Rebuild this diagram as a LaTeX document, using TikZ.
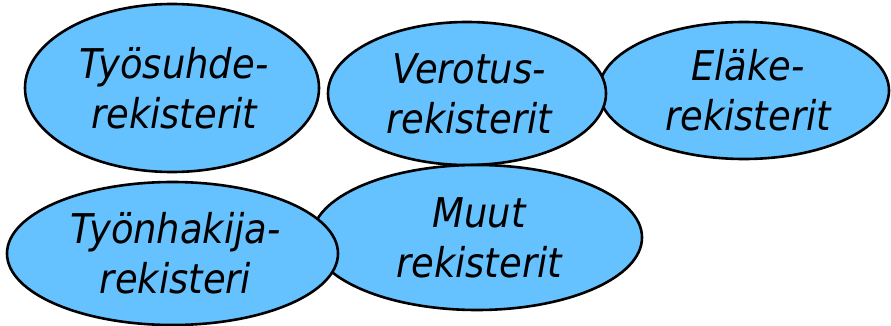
\documentclass[tikz,border=0pt]{standalone}
\usepackage{fontspec}
\newfontfamily\regfont{DejaVu Sans Condensed Oblique}
\usetikzlibrary{shapes.geometric}
\definecolor{regblue}{RGB}{102,194,255}
\begin{document}
\begin{tikzpicture}[x=1pt,y=-1pt,
  reg/.style={ellipse, draw=black, fill=regblue, line width=2.6pt, inner sep=0pt},
  lbl/.style={align=center, font=\regfont\fontsize{41}{50}\selectfont, inner sep=0pt}]
\useasboundingbox (0,0) rectangle (891,326);
\node[reg, minimum width=294pt, minimum height=168pt] (tyosuhde) at (172,88) {};
\node[lbl] (tyosuhdeT) at ([xshift=2pt]tyosuhde.center) {Työsuhde-\\rekisterit};
\node[reg, minimum width=290pt, minimum height=137pt] (elake) at (744,90.5) {};
\node[lbl] (elakeT) at ([xshift=4pt]elake.center) {Eläke-\\rekisterit};
\node[reg, minimum width=278pt, minimum height=143pt] (verotus) at (467,93.5) {};
\node[lbl] (verotusT) at ([xshift=2pt]verotus.center) {Verotus-\\rekisterit};
\node[reg, minimum width=330pt, minimum height=145pt] (muut) at (477,237.5) {};
\node[lbl] (muutT) at ([xshift=2pt]muut.center) {Muut\\rekisterit};
\node[reg, minimum width=331pt, minimum height=143pt] (tyonhakija) at (172.5,253.5) {};
\node[lbl] (tyonhakijaT) at ([xshift=3pt]tyonhakija.center) {Työnhakija-\\rekisteri};
\end{tikzpicture}
\end{document}
